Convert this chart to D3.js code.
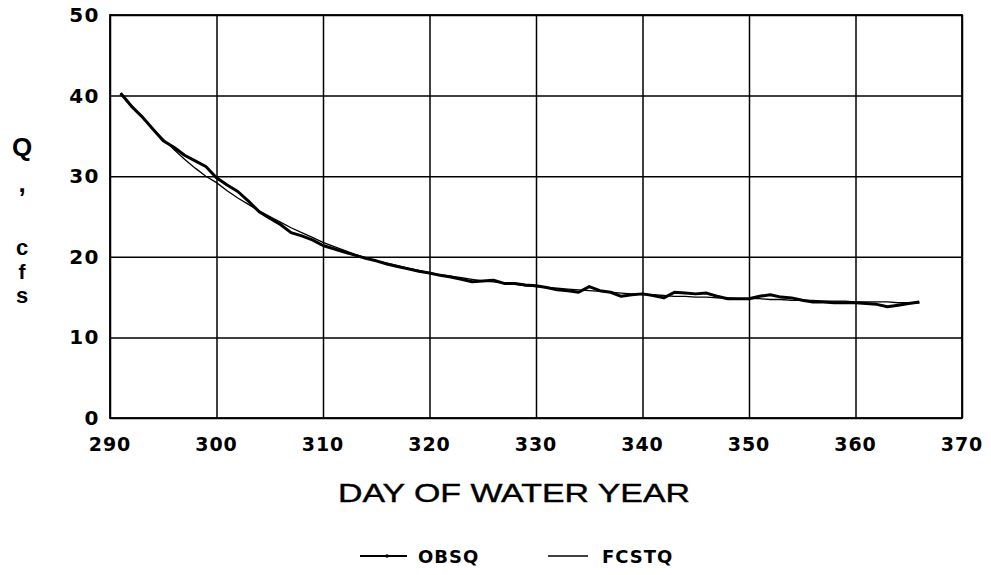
<!DOCTYPE html>
<html><head><meta charset="utf-8">
<script src="https://cdn.jsdelivr.net/npm/d3@7/dist/d3.min.js"></script>
<style>body{margin:0;background:#fff}</style></head>
<body>
<svg id="c" width="991" height="575"></svg>
<script>
const days = [291,292,293,294,295,296,297,298,299,300,301,302,303,304,305,306,307,308,309,310,
  311,312,313,314,315,316,317,318,319,320,321,322,323,324,325,326,327,328,329,330,
  331,332,333,334,335,336,337,338,339,340,341,342,343,344,345,346,347,348,349,350,
  351,352,353,354,355,356,357,358,359,360,361,362,363,364,365,366];
const obsq = [40.3,38.7,37.4,35.9,34.4,33.6,32.6,31.9,31.2,29.8,28.9,28.1,26.9,25.6,24.8,24.0,23.0,22.6,22.1,21.4,
  21.0,20.6,20.2,19.8,19.5,19.1,18.8,18.5,18.2,18.0,17.7,17.5,17.2,16.9,17.0,17.1,16.7,16.7,16.5,16.4,
  16.2,15.9,15.8,15.6,16.3,15.8,15.6,15.1,15.3,15.4,15.2,14.9,15.6,15.5,15.4,15.5,15.1,14.8,14.8,14.8,
  15.1,15.3,15.0,14.9,14.6,14.4,14.4,14.3,14.3,14.3,14.2,14.1,13.8,14.0,14.2,14.4];
const fcstq = [40.3,38.8,37.3,35.9,34.6,33.3,32.1,31.0,30.0,29.2,28.2,27.3,26.5,25.7,25.0,24.3,23.6,23.0,22.4,21.8,
  21.3,20.8,20.3,19.9,19.5,19.2,18.9,18.6,18.3,18.0,17.8,17.6,17.4,17.2,17.0,16.9,16.7,16.6,16.4,16.3,
  16.2,16.1,16.0,15.9,15.8,15.7,15.6,15.5,15.4,15.3,15.3,15.2,15.1,15.1,15.0,15.0,14.9,14.9,14.8,14.8,
  14.8,14.7,14.7,14.6,14.6,14.6,14.5,14.5,14.5,14.4,14.4,14.4,14.4,14.3,14.3,14.3];
const xTicks = [290,300,310,320,330,340,350,360,370];
const yTicks = [0,10,20,30,40,50];
const xTitle = "DAY OF WATER YEAR";
const yTitle = ["Q", ",", "c", "f", "s"];
const seriesNames = ["OBSQ", "FCSTQ"];

const svg = d3.select("#c");
const L = 110, R = 962, T = 15, B = 418;
const x = d3.scaleLinear().domain([290, 370]).range([L, R]);
const y = d3.scaleLinear().domain([0, 50]).range([B, T]);

// grid
const gx = svg.append("g").attr("transform", `translate(0,${B})`)
  .call(d3.axisBottom(x).tickValues(xTicks).tickSize(-(B - T)).tickFormat(""));
gx.select(".domain").remove();
gx.selectAll("line").attr("stroke", "#000").attr("stroke-width", 1.5);
const gy = svg.append("g").attr("transform", `translate(${L},0)`)
  .call(d3.axisLeft(y).tickValues(yTicks).tickSize(-(R - L)).tickFormat(""));
gy.select(".domain").remove();
gy.selectAll("line").attr("stroke", "#000").attr("stroke-width", 1.5);

svg.append("rect").attr("x", L).attr("y", T).attr("width", R - L).attr("height", B - T)
  .attr("fill", "none").attr("stroke", "#000").attr("stroke-width", 1.8);

// tick labels
const tickFont = "'DejaVu Sans', 'Liberation Sans', sans-serif";
svg.append("g").selectAll("text").data(xTicks).join("text")
  .attr("x", d => x(d)).attr("y", 451)
  .attr("text-anchor", "middle")
  .attr("font-family", tickFont).attr("font-weight", "bold").attr("font-size", 19)
  .attr("letter-spacing", 1)
  .text(d => d);
svg.append("g").selectAll("text").data(yTicks).join("text")
  .attr("x", 100).attr("y", d => y(d) + 7)
  .attr("text-anchor", "end")
  .attr("font-family", tickFont).attr("font-weight", "bold").attr("font-size", 20)
  .attr("letter-spacing", 1.5)
  .text(d => d);

// axis titles
svg.append("text").attr("x", 514).attr("y", 502).attr("text-anchor", "middle")
  .attr("font-family", "'Liberation Sans', Arial, sans-serif").attr("font-size", 26)
  .attr("textLength", 352).attr("lengthAdjust", "spacingAndGlyphs")
  .attr("stroke", "#000").attr("stroke-width", 0.4)
  .text(xTitle);
const titleFont = "'Liberation Sans', Arial, sans-serif";
const yPos = [156, 192, 255, 279, 303];
const ySize = [26, 26, 22, 21, 22];
svg.append("g").selectAll("text").data(yTitle).join("text")
  .attr("x", 22).attr("y", (d, i) => yPos[i]).attr("text-anchor", "middle")
  .attr("font-family", titleFont).attr("font-weight", "bold")
  .attr("font-size", (d, i) => ySize[i])
  .text(d => d);

// lines
const line = d3.line().x((d, i) => x(days[i])).y(d => y(d));
svg.append("path").datum(fcstq).attr("d", line)
  .attr("fill", "none").attr("stroke", "#000").attr("stroke-width", 1.3);
svg.append("path").datum(obsq).attr("d", line)
  .attr("fill", "none").attr("stroke", "#000").attr("stroke-width", 3)
  .attr("stroke-linejoin", "round");

// legend
const lg = svg.append("g");
const ly = 556;
lg.append("line").attr("x1", 360).attr("x2", 407).attr("y1", ly).attr("y2", ly)
  .attr("stroke", "#000").attr("stroke-width", 2);
lg.append("circle").attr("cx", 387).attr("cy", ly).attr("r", 1.8).attr("fill", "#000");
lg.append("text").attr("x", 418).attr("y", ly + 7).text(seriesNames[0])
  .attr("font-family", tickFont).attr("font-weight", "bold").attr("font-size", 18).attr("letter-spacing", 1);
lg.append("line").attr("x1", 548).attr("x2", 588).attr("y1", ly).attr("y2", ly)
  .attr("stroke", "#000").attr("stroke-width", 1.3);
lg.append("text").attr("x", 602).attr("y", ly + 7).text(seriesNames[1])
  .attr("font-family", tickFont).attr("font-weight", "bold").attr("font-size", 18).attr("letter-spacing", 1);
</script>
</body></html>
